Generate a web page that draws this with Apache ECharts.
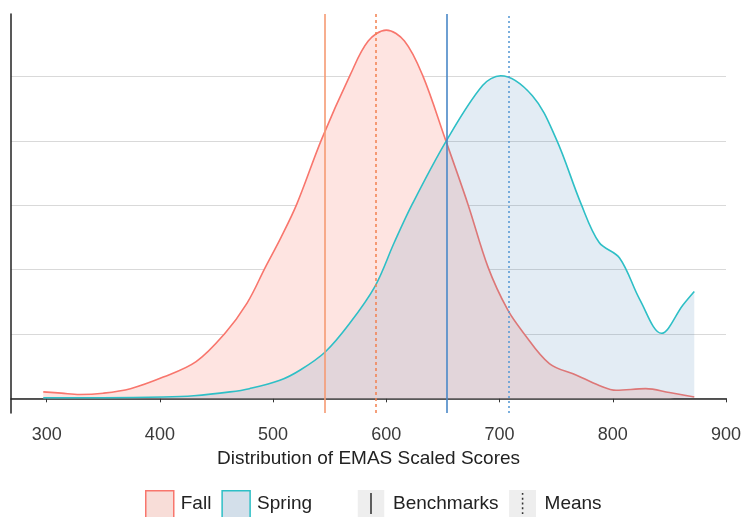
<!DOCTYPE html>
<html>
<head>
<meta charset="utf-8">
<script src="https://cdn.jsdelivr.net/npm/echarts@6/dist/echarts.min.js"></script>
<style>
  html, body { margin: 0; padding: 0; background: #fff; }
  #chart { width: 744px; height: 517px; }
</style>
</head>
<body>
<div id="chart"></div>
<script>
// density curves (x = scaled score, y = density in grid units)
const fallX = [297, 313, 329, 350, 374, 403, 432, 457, 477, 493, 507, 521, 543, 568, 584, 600, 616, 632, 652, 672, 690, 707, 721, 744, 768, 788, 803, 829, 850, 872];
const fallY = [0.10, 0.08, 0.06, 0.08, 0.15, 0.33, 0.57, 1.0, 1.48, 2.03, 2.5, 3.02, 4.03, 5.02, 5.55, 5.72, 5.55, 5.02, 4.03, 3.02, 2.03, 1.38, 1.02, 0.54, 0.36, 0.2, 0.125, 0.15, 0.09, 0.02];
const springX = [297, 350, 403, 430, 462, 479, 506, 524, 546, 567, 590, 607, 623, 653, 685, 701, 729, 750, 772, 788, 806, 824, 843, 862, 872];
const springY = [0.01, 0.01, 0.02, 0.04, 0.10, 0.15, 0.28, 0.44, 0.72, 1.15, 1.74, 2.42, 3.02, 4.0, 4.86, 5.01, 4.7, 4.03, 3.02, 2.42, 2.18, 1.53, 1.01, 1.45, 1.66];

const benchmarks = [546, 653];   // Fall, Spring
const means = [591, 708];        // Fall, Spring
const xTicks = [300, 400, 500, 600, 700, 800, 900];
const yGrid = [0, 1, 2, 3, 4, 5];

const FONT = "'Liberation Sans', Arial, sans-serif";

function pairs (xs, ys) {
  return xs.map((x, i) => [x, ys[i]]);
}

function keyIcon (dash) {
  let svg = "<svg xmlns='http://www.w3.org/2000/svg' width='28' height='28'>" +
    "<rect width='28' height='28' fill='#eeeeee'/>" +
    "<line x1='14' y1='3' x2='14' y2='25' stroke='#333' stroke-width='1.6'" +
    (dash ? " stroke-dasharray='2,3'" : "") + "/></svg>";
  return 'image://data:image/svg+xml;charset=utf-8,' + encodeURIComponent(svg);
}

let myChart = echarts.init(document.getElementById('chart'));
let option = {
  animation: false,
  textStyle: { fontFamily: FONT },
  grid: {
    left: 11,
    right: 17,
    top: 14,
    bottom: 104
  },
  xAxis: {
    type: 'value',
    min: 268.5,
    max: 900,
    name: 'Distribution of EMAS Scaled Scores',
    nameLocation: 'middle',
    nameGap: 33,
    nameTextStyle: { fontSize: 19, color: '#222', fontFamily: FONT },
    axisLine: { lineStyle: { color: '#222', width: 1.5 } },
    axisTick: { show: true, length: 4, customValues: xTicks, lineStyle: { color: '#333' } },
    axisLabel: { customValues: xTicks, fontSize: 18, color: '#3a3a3a', margin: 13, fontFamily: FONT },
    splitLine: { show: false }
  },
  yAxis: {
    type: 'value',
    min: -0.228,
    max: 5.97,
    axisLine: { show: true, lineStyle: { color: '#222', width: 1.5 } },
    axisTick: { show: false, customValues: yGrid },
    axisLabel: { show: false },
    splitLine: { show: true, lineStyle: { color: '#d9d9d9', width: 1.2 } }
  },
  legend: [
    {
      left: 145,
      top: 490,
      padding: 0,
      itemWidth: 28,
      itemHeight: 27,
      itemGap: 10,
      selectedMode: false,
      textStyle: { fontSize: 19, color: '#222', fontFamily: FONT, padding: [0, 0, 0, 2] },
      data: [
        { name: 'Fall', icon: 'rect', itemStyle: { color: '#f8ddd8', borderColor: '#F8766D', borderWidth: 1.5 } },
        { name: 'Spring', icon: 'rect', itemStyle: { color: '#d3dfea', borderColor: '#2EBFC6', borderWidth: 1.5 } }
      ]
    },
    {
      left: 357,
      top: 490,
      padding: 0,
      itemWidth: 28,
      itemHeight: 27,
      itemGap: 10,
      selectedMode: false,
      textStyle: { fontSize: 19, color: '#222', fontFamily: FONT, padding: [0, 0, 0, 3] },
      data: [
        { name: 'Benchmarks', icon: keyIcon(false) },
        { name: 'Means', icon: keyIcon(true) }
      ]
    }
  ],
  series: [
    {
      name: 'Fall',
      type: 'line',
      data: pairs(fallX, fallY),
      smooth: 0.35,
      showSymbol: false,
      lineStyle: { color: '#F8766D', width: 1.6 },
      itemStyle: { color: '#F8766D' },
      areaStyle: { color: '#fee4e1', opacity: 1 },
      z: 2
    },
    {
      name: 'Spring',
      type: 'line',
      data: pairs(springX, springY),
      smooth: 0.35,
      showSymbol: false,
      lineStyle: { color: '#2EBFC6', width: 1.6 },
      itemStyle: { color: '#2EBFC6' },
      areaStyle: { color: 'rgba(70, 130, 180, 0.21)' },
      z: 3
    },
    {
      name: 'Benchmarks',
      type: 'line',
      data: [],
      z: 5,
      markLine: {
        silent: true,
        symbol: 'none',
        label: { show: false },
        data: [
          { xAxis: benchmarks[0], lineStyle: { color: '#F59A73', width: 1.6, type: 'solid' } },
          { xAxis: benchmarks[1], lineStyle: { color: '#4A88C7', width: 1.6, type: 'solid' } }
        ]
      }
    },
    {
      name: 'Means',
      type: 'line',
      data: [],
      z: 5,
      markLine: {
        silent: true,
        symbol: 'none',
        label: { show: false },
        data: [
          { xAxis: means[0], lineStyle: { color: '#F2804F', width: 1.5, type: [3, 3] } },
          { xAxis: means[1], lineStyle: { color: '#5A9BD5', width: 1.6, type: [2, 3] } }
        ]
      }
    }
  ]
};
myChart.setOption(option);
</script>
</body>
</html>
